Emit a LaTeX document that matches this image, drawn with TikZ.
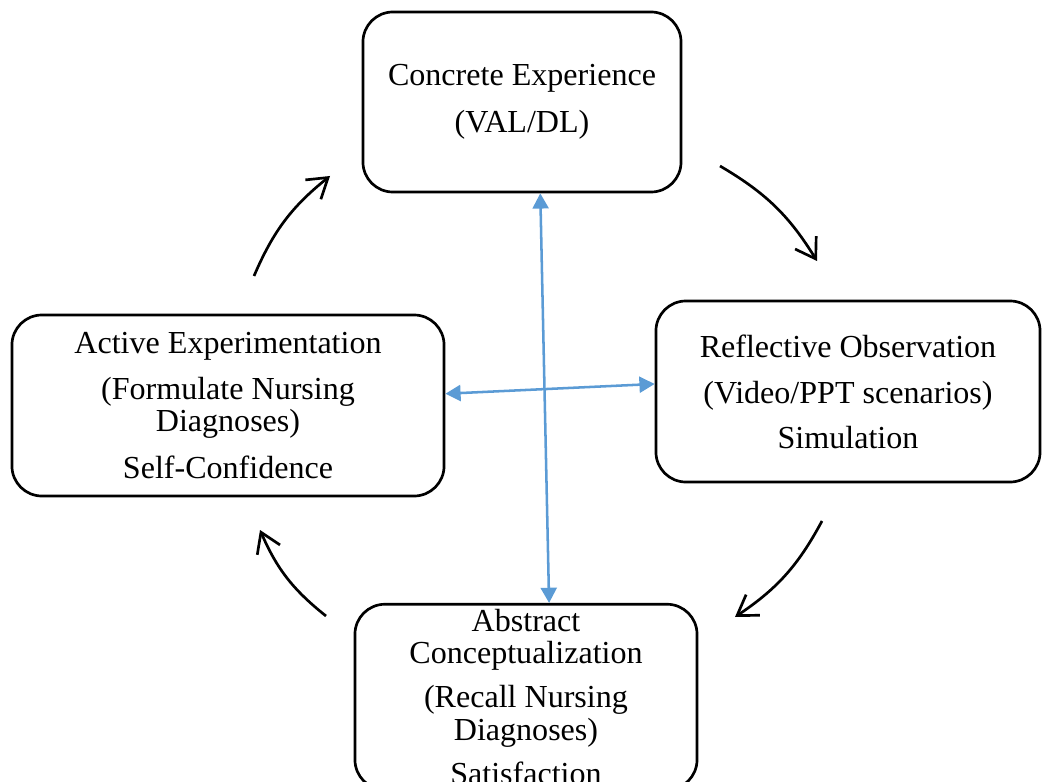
\documentclass[tikz,border=0pt]{standalone}
\usepackage{fontspec}
\setmainfont{Liberation Serif}
\usetikzlibrary{arrows.meta, calc}
\definecolor{linkblue}{HTML}{5B9BD5}
\tikzset{stage/.style={draw, rounded corners=0.75cm, line width=1.9pt, align=center,
   font=\fontsize{22.8}{22.8}\selectfont},
 cyclearrow/.style={line width=1.9pt, -{Straight Barb[length=0.48cm, width=0.62cm]}, bend left=14},
 link/.style={draw=linkblue, line width=1.8pt,
   {Triangle[length=0.38cm, width=0.4cm]}-{Triangle[length=0.38cm, width=0.4cm]}},
 }

\begin{document}
\begin{tikzpicture}[x=0.025cm, y=-0.025cm]
        \useasboundingbox (0,0) rectangle (1042,782);
        \node[stage, minimum width=7.95cm, minimum height=4.5cm] (concrete) at (522,102)
            {Concrete Experience\\[11pt](VAL/DL)};
        \node[stage, minimum width=9.6cm, minimum height=4.525cm] (reflective) at (848,391.5)
            {Reflective Observation\\[10pt](Video/PPT scenarios)\\[9pt]Simulation};
        \node[stage, minimum width=10.8cm, minimum height=4.525cm] (active) at (228,405.5)
            {Active Experimentation\\[10pt](Formulate Nursing\\Diagnoses)\\[10pt]Self-Confidence};
        \node[stage, minimum width=8.55cm, minimum height=4.625cm] (abstract) at (526,697)
            {Abstract\\Conceptualization\\[9pt](Recall Nursing\\Diagnoses)\\[9pt]Satisfaction};

        \draw[link] ($(concrete.south west)!0.557!(concrete.south east)$)
            -- ($(abstract.north west)!0.567!(abstract.north east)$);
        \draw[link] ($(active.south east)!0.564!(active.north east)$)
            -- ($(reflective.south west)!0.541!(reflective.north west)$);

        \coordinate (a1) at (720,166); \coordinate (b1) at (817,261);
        \coordinate (a2) at (822,521); \coordinate (b2) at (735,617);
        \coordinate (a3) at (326,616); \coordinate (b3) at (260,530);
        \coordinate (a4) at (254,276); \coordinate (b4) at (330,176);
        \foreach \i in {1,...,4} {
            \draw[cyclearrow] (a\i) to (b\i);
        }
    \end{tikzpicture}
\end{document}
